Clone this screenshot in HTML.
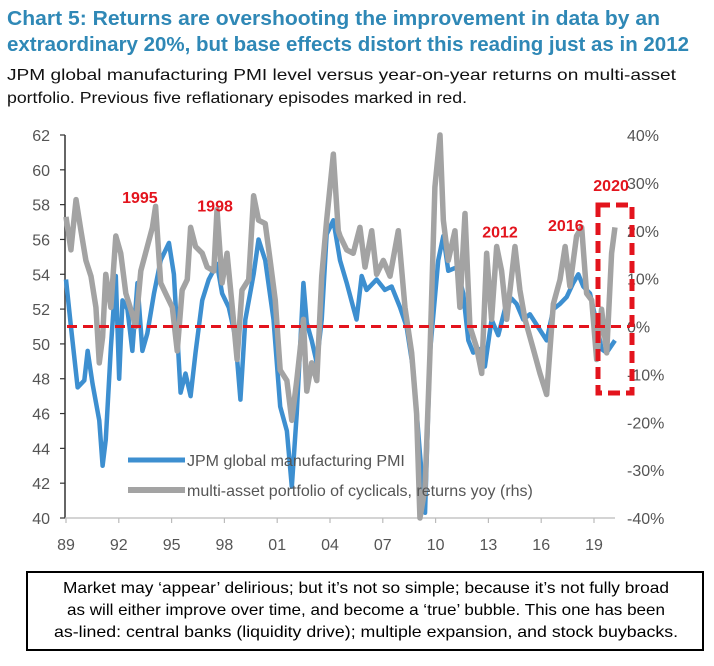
<!DOCTYPE html>
<html><head><meta charset="utf-8"><style>
body{margin:0;background:#fff;width:714px;height:661px;overflow:hidden}
svg{font-family:"Liberation Sans",Arial,sans-serif}
</style></head><body>
<svg id="chart" width="714" height="661" viewBox="0 0 714 661">
<text x="7" y="25" font-size="20" font-weight="bold" fill="#2f88b6" textLength="653" lengthAdjust="spacingAndGlyphs">Chart 5: Returns are overshooting the improvement in data by an</text>
<text x="7" y="51" font-size="20" font-weight="bold" fill="#2f88b6" textLength="682" lengthAdjust="spacingAndGlyphs">extraordinary 20%, but base effects distort this reading just as in 2012</text>
<text x="7" y="80" font-size="16" fill="#111" textLength="669" lengthAdjust="spacingAndGlyphs">JPM global manufacturing PMI level versus year-on-year returns on multi-asset</text>
<text x="7" y="103" font-size="16" fill="#111" textLength="460" lengthAdjust="spacingAndGlyphs">portfolio. Previous five reflationary episodes marked in red.</text>
<g id="axes"></g>
<g id="series"></g>
<g id="annot"></g>
<rect x="27" y="572" width="676" height="78" fill="#fff" stroke="#000" stroke-width="2"/>
<text x="63" y="593" font-size="16" fill="#000" textLength="606" lengthAdjust="spacingAndGlyphs">Market may ‘appear’ delirious; but it’s not so simple; because it’s not fully broad</text>
<text x="67" y="615" font-size="16" fill="#000" textLength="598" lengthAdjust="spacingAndGlyphs">as will either improve over time, and become a ‘true’ bubble. This one has been</text>
<text x="54" y="637" font-size="16" fill="#000" textLength="624" lengthAdjust="spacingAndGlyphs">as-lined: central banks (liquidity drive); multiple expansion, and stock buybacks.</text>
</svg>
<script>
const leftTicks=[40,42,44,46,48,50,52,54,56,58,60,62];
const rightTicks=[-40,-30,-20,-10,0,10,20,30,40];
const xTickYears=[1989,1992,1995,1998,2001,2004,2007,2010,2013,2016,2019];
const xTickLabels=["89","92","95","98","01","04","07","10","13","16","19"];
const pmiYears=[1989.0,1989.28,1989.66,1990.04,1990.23,1990.51,1990.89,1991.08,1991.26,1991.55,1991.83,1992.02,1992.21,1992.49,1992.77,1993.06,1993.34,1993.62,1994.0,1994.38,1994.85,1995.13,1995.32,1995.51,1995.79,1996.08,1996.36,1996.74,1997.11,1997.58,1997.87,1998.25,1998.62,1998.91,1999.19,1999.66,1999.94,2000.32,2000.79,2001.17,2001.55,2001.83,2002.11,2002.49,2002.68,2002.96,2003.25,2003.53,2003.81,2004.19,2004.57,2004.95,2005.32,2005.51,2005.8,2006.08,2006.65,2007.12,2007.5,2007.98,2008.35,2008.73,2009.11,2009.4,2009.68,2010.15,2010.44,2010.72,2011.2,2011.57,2011.86,2012.14,2012.52,2012.8,2013.18,2013.56,2013.94,2014.32,2014.6,2014.98,2015.36,2015.93,2016.31,2016.69,2017.07,2017.45,2017.82,2018.11,2018.39,2018.77,2019.15,2019.43,2019.72,2020.19];
const pmiValues=[53.7,51,47.5,47.9,49.6,47.7,45.6,43,44.5,49.8,53.9,48,52.5,52,49.6,53.5,49.6,50.6,52.9,54.8,55.8,54,50.6,47.2,48.3,47,49.5,52.5,53.7,54.6,52.9,52.1,50.4,46.8,51.4,54,56,54.8,51.4,46.4,45,41.8,46,53.5,51.2,50.2,48.9,51.4,56.3,57.1,54.8,53.5,52.1,51.4,53.9,53.1,53.7,53.1,53.3,52.1,51,48.5,43.7,40.3,49.5,54.8,56.2,54.2,54.4,52.9,50.2,49.5,49.7,48.7,51.4,50.5,52,52.6,52.3,51.4,51.7,50.8,50.2,52,52.3,52.7,53.5,54,53.3,52.9,51.2,49.7,49.5,50.2];
const retYears=[1989.0,1989.28,1989.57,1989.85,1990.13,1990.42,1990.7,1990.89,1991.08,1991.26,1991.55,1991.83,1992.11,1992.4,1992.68,1992.96,1993.25,1993.62,1993.91,1994.09,1994.38,1994.66,1995.04,1995.32,1995.6,1995.89,1996.08,1996.36,1996.74,1997.02,1997.4,1997.58,1997.87,1998.15,1998.43,1998.72,1999.0,1999.38,1999.66,1999.94,2000.32,2000.6,2000.89,2001.17,2001.55,2001.83,2002.11,2002.49,2002.68,2002.96,2003.25,2003.53,2003.81,2004.19,2004.47,2004.57,2004.95,2005.32,2005.7,2005.99,2006.37,2006.65,2007.03,2007.41,2007.88,2008.26,2008.64,2008.92,2009.11,2009.4,2009.68,2009.96,2010.25,2010.44,2010.72,2011.1,2011.38,2011.67,2011.95,2012.33,2012.62,2012.9,2013.18,2013.47,2013.75,2014.04,2014.51,2014.79,2015.08,2015.55,2015.93,2016.31,2016.69,2017.07,2017.36,2017.63,2018.01,2018.3,2018.58,2018.87,2019.15,2019.43,2019.72,2020.0,2020.19];
const retValues=[22.9,16,26.5,20,13.8,10.5,4,-7.6,-2.2,10.9,4,18.9,15.3,6.9,3.6,0,11.6,16.7,20.7,25.1,9.1,6.9,4,-5.1,7.6,9.8,20.7,16.7,15.3,12.4,11.6,24.4,9.1,15.3,4.7,-6.9,7.6,9.8,27.3,22.2,21.5,13.8,5.5,-9.1,-11.3,-19.6,-11.3,1.5,-13.5,-7.6,-11.3,10.5,22.2,36,20,18.9,16,15.3,20.7,12.4,20,10.9,13.8,10.5,20,4,-5.5,-18.2,-40,-33.8,-5.5,29.1,40,22.2,13.8,20,4,23.6,0,-4.4,-9.8,15.3,1.5,16.7,11.6,1.5,16.7,7.6,1.5,-4.7,-9.8,-14.2,4.7,9.8,16.7,8.4,18.9,20.7,6.9,5.5,-6.9,3.6,-5.5,15.3,20.7];
const episodeLabels=["1995","1998","2012","2016","2020"];
const episodeYears=[1993.2,1997.47,2013.66,2017.4,2019.97];
const episodeLevels=[58.1,57.6,56.1,56.5,28.3];

const NS="http://www.w3.org/2000/svg";
const X0=65,X1=615,Y0=518,Y1=135;
const xs=y=>66+(y-1989)*17.6;
const yl=v=>Y0-(v-40)/22*(Y0-Y1);
const yr=p=>Y0-(p+40)/80*(Y0-Y1);
function mk(tag,attrs,parent,txt){const e=document.createElementNS(NS,tag);for(const k in attrs)e.setAttribute(k,attrs[k]);if(txt!=null)e.textContent=txt;parent.appendChild(e);return e;}
const ax=document.getElementById('axes'),se=document.getElementById('series'),an=document.getElementById('annot');
let e=mk('line',{x1:X0,y1:Y1,x2:X0,y2:Y0,stroke:'#333','stroke-width':1.5},ax);


e=mk('line',{x1:X0,y1:Y0,x2:X1,y2:Y0,stroke:'#bbb','stroke-width':1.2},ax);


leftTicks.forEach(v=>{
  mk('line',{x1:X0-5,y1:yl(v),x2:X0,y2:yl(v),stroke:'#333','stroke-width':1.2},ax);
  const t=mk('text',{x:X0-15,y:yl(v)+6,'font-size':16,'text-anchor':'end',fill:'#555'},ax,String(v));
  
  
});
rightTicks.forEach(p=>{
  const t=mk('text',{x:627,y:yr(p)+6,'font-size':16,fill:'#555'},ax,p+'%');
  
  
});
xTickYears.forEach((y,i)=>{
  mk('line',{x1:xs(y),y1:Y0,x2:xs(y),y2:Y0+5,stroke:'#bbb','stroke-width':1.2},ax);
  const t=mk('text',{x:xs(y),y:Y0+32,'font-size':16,'text-anchor':'middle',fill:'#555'},ax,xTickLabels[i]);
  
  
});
const b=mk('polyline',{points:pmiYears.map((y,i)=>xs(y)+','+yl(pmiValues[i])).join(' '),fill:'none',stroke:'#3d8fd0','stroke-width':4.5,'stroke-linejoin':'round'},se);


const g=mk('polyline',{points:retYears.map((y,i)=>xs(y)+','+yr(retValues[i])).join(' '),fill:'none',stroke:'#a3a3a3','stroke-width':5.5,'stroke-linejoin':'round'},se);


e=mk('line',{x1:X0+2,y1:yl(51),x2:X1+15,y2:yl(51),stroke:'#e3141d','stroke-width':3,'stroke-dasharray':'10,6'},an);


e=mk('rect',{x:598,y:205,width:34,height:188,fill:'none',stroke:'#e3141d','stroke-width':5,'stroke-dasharray':'12,6'},an);


episodeLabels.forEach((l,i)=>{
  const y = i===4 ? yr(episodeLevels[i]) : yl(episodeLevels[i]);
  const t=mk('text',{x:xs(episodeYears[i]),y:y,'font-size':16,'font-weight':'bold','text-anchor':'middle',fill:'#e3141d'},an,l);
  
  
});
e=mk('line',{x1:128,y1:460,x2:185,y2:460,stroke:'#3d8fd0','stroke-width':5},an);


e=mk('text',{x:187,y:466,'font-size':16,fill:'#555'},an,'JPM global manufacturing PMI');


e=mk('line',{x1:128,y1:490,x2:185,y2:490,stroke:'#a3a3a3','stroke-width':6},an);


e=mk('text',{x:187,y:496,'font-size':16,fill:'#555'},an,'multi-asset portfolio of cyclicals, returns yoy (rhs)');


</script>
</body></html>
